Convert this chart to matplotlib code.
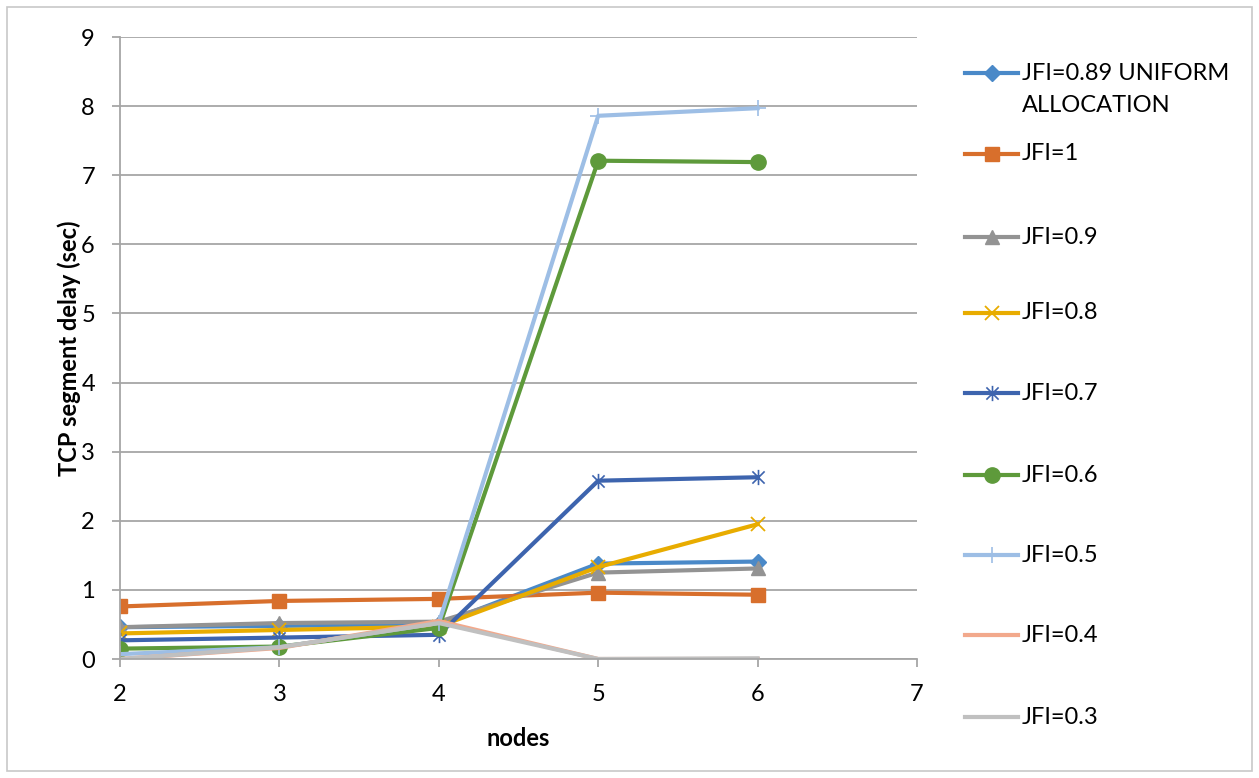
import numpy as np
import matplotlib
matplotlib.use('Agg')
import matplotlib.pyplot as plt
from matplotlib.lines import Line2D
from matplotlib.path import Path
from matplotlib.patches import Rectangle

plt.rcParams['font.family'] = ['Lato', 'DejaVu Sans']

nodes = [2, 3, 4, 5, 6]

labels = ['JFI=0.89 UNIFORM\nALLOCATION', 'JFI=1', 'JFI=0.9', 'JFI=0.8', 'JFI=0.7',
          'JFI=0.6', 'JFI=0.5', 'JFI=0.4', 'JFI=0.3']

jfi_089 = [0.46, 0.48, 0.50, 1.38, 1.41]
jfi_1 = [0.76, 0.84, 0.87, 0.96, 0.93]
jfi_09 = [0.46, 0.52, 0.54, 1.25, 1.31]
jfi_08 = [0.37, 0.42, 0.47, 1.33, 1.95]
jfi_07 = [0.27, 0.31, 0.35, 2.58, 2.63]
jfi_06 = [0.15, 0.18, 0.45, 7.21, 7.19]
jfi_05 = [0.07, 0.17, 0.52, 7.86, 7.97]
jfi_04 = [0.00, 0.16, 0.55, 0.00, 0.00]
jfi_03 = [0.00, 0.17, 0.52, 0.00, 0.01]

series = [jfi_089, jfi_1, jfi_09, jfi_08, jfi_07, jfi_06, jfi_05, jfi_04, jfi_03]

# asterisk marker: an x with a vertical stroke through it
star = Path([(-1, -1), (1, 1), (-1, 1), (1, -1), (0, -1.25), (0, 1.25)],
            [Path.MOVETO, Path.LINETO, Path.MOVETO, Path.LINETO, Path.MOVETO, Path.LINETO])

styles = [
    dict(color='#4A89C8', marker='D', ms=8),
    dict(color='#D86F2C', marker='s', ms=10),
    dict(color='#939393', marker='^', ms=10),
    dict(color='#E8AC00', marker='x', ms=10, mew=1.3),
    dict(color='#3D64AE', marker=star, ms=11, mew=1.2),
    dict(color='#5E9A3B', marker='o', ms=11),
    dict(color='#9DBEE5', marker='+', ms=11, mew=1.2),
    dict(color='#F2A98C', marker=None, ms=0),
    dict(color='#C0C0C0', marker=None, ms=0),
]

fig = plt.figure(figsize=(12.59, 7.78), dpi=100)
ax = fig.add_axes([120 / 1259, 1 - 659 / 778, 797 / 1259, 622 / 778])

for vals, st in zip(series, styles):
    ax.plot(nodes, vals, lw=3, solid_joinstyle='round', **st)

ax.set_xlim(2, 7)
ax.set_ylim(0, 9)
ax.set_xticks(range(2, 8))
ax.set_yticks(range(0, 10))
ax.yaxis.grid(True, color='#A6A6A6', lw=1.3)
ax.set_axisbelow(True)
for s in ['top', 'right']:
    ax.spines[s].set_visible(False)
for s in ['left', 'bottom']:
    ax.spines[s].set_color('#A6A6A6')
    ax.spines[s].set_linewidth(1.3)
ax.tick_params(axis='both', colors='#A6A6A6', labelcolor='black', labelsize=17,
               length=6, width=1.3)
ax.tick_params(axis='x', pad=12)
ax.tick_params(axis='y', pad=12)
ax.set_xlabel('nodes', fontsize=17, fontweight='bold', labelpad=16)
ax.set_ylabel('TCP segment delay (sec)', fontsize=17, fontweight='bold', labelpad=0)

# legend drawn row by row on the right side
rows_px = [73, 154, 237, 313, 393, 475, 555, 635, 717]
for lab, st, ypx in zip(labels, styles, rows_px):
    y = 1 - ypx / 778
    fig.add_artist(Line2D([965 / 1259, 1018 / 1259], [y, y], transform=fig.transFigure,
                          color=st['color'], lw=3))
    if st['marker'] is not None:
        fig.add_artist(Line2D([991.5 / 1259], [y], transform=fig.transFigure,
                              color=st['color'], marker=st['marker'], ms=st['ms'],
                              mew=st.get('mew', 1), lw=0))
    for i, part in enumerate(lab.split('\n')):
        fig.text(1022 / 1259, 1 - (ypx + 32 * i) / 778, part, fontsize=17, va='center')

fig.add_artist(Rectangle((7 / 1259, 7 / 778), 1245 / 1259, 764 / 778, transform=fig.transFigure,
                         fill=False, edgecolor='#C8C8C8', lw=1.2))

fig.savefig('out.png', dpi=100)
